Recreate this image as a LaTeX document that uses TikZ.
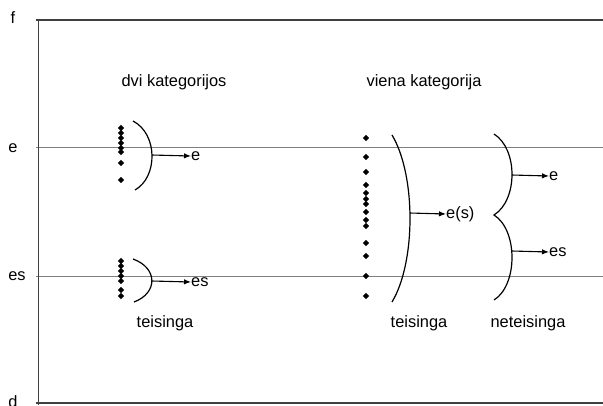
\documentclass[tikz,border=0pt]{standalone}
\usepackage{fontspec}
\setmainfont{Liberation Sans}
\usetikzlibrary{arrows.meta,shapes.geometric}
\begin{document}
\begin{tikzpicture}[x=1bp,y=-1bp,
  lbl/.style={font=\fontsize{16.4bp}{19bp}\selectfont, inner sep=0pt},
  axisline/.style={draw=black!75, line width=1.4bp},
  guide/.style={draw=black!50, line width=0.9bp},
  arc/.style={draw=black, line width=1.2bp},
  arr/.style={draw=black, line width=1.1bp, -{Latex[length=7bp,width=5.5bp]}},
  dot/.style={diamond, fill=black, inner sep=0pt, minimum size=6.5bp}]
\useasboundingbox (0,0) rectangle (603,405);
% axes
\coordinate (tl) at (36,20); \coordinate (tr) at (603,20);
\coordinate (al) at (38.5,20); \coordinate (ab) at (38.5,405);
\coordinate (bl) at (36,403); \coordinate (br) at (603,403);
\coordinate (el) at (36,147); \coordinate (er) at (603,147);
\coordinate (sl) at (36,276); \coordinate (sr) at (603,276);
\draw[guide] (el) -- (er);
\draw[guide] (sl) -- (sr);
\draw[axisline] (tl) -- (tr);
\draw[axisline] (al) -- (ab);
\draw[axisline] (bl) -- (br);
\node[lbl] (yf) at (13,18) {f};
\node[lbl] (ye) at (13,148) {e};
\node[lbl] (yes) at (17,276) {es};
\node[lbl] (yd) at (13,402) {d};
% headings
\node[lbl] (h1) at (174,82) {dvi kategorijos};
\node[lbl] (h2) at (424,82) {viena kategorija};
\node[lbl] (t1) at (165,323) {teisinga};
\node[lbl] (t2) at (419,323) {teisinga};
\node[lbl] (t3) at (528,323) {neteisinga};
% left top group
\foreach \y [count=\i] in {128,133,138,143,148,152,163,180}
  \node[dot] (la\i) at (121,\y) {};
\draw[arc] (133,121) .. controls (158,134) and (158,177) .. (135,190);
\coordinate (lat) at (152,155);
\node[lbl, anchor=west] (le) at (191,156) {e};
\draw[arr] (lat) -- (le.west);
% left bottom group
\foreach \y [count=\i] in {261,266,271,276,281,290,296}
  \node[dot] (lb\i) at (121,\y) {};
\draw[arc] (133,259) .. controls (158,268) and (158,293) .. (134,302);
\coordinate (lbt) at (152,281);
\node[lbl, anchor=west] (les) at (191,282) {es};
\draw[arr] (lbt) -- (les.west);
% middle group
\foreach \y [count=\i] in {138,157,172,185,193,199,204,212,220,226,243,256,276,296}
  \node[dot] (m\i) at (366,\y) {};
\draw[arc] (392,135) .. controls (416,175) and (416,262) .. (392,302);
\coordinate (mt) at (410,213);
\node[lbl, anchor=west] (mes) at (446,214) {e(s)};
\draw[arr] (mt) -- (mes.west);
% right brace
\coordinate (rc) at (494,215);
\draw[arc] (494,134) .. controls (518,149) and (518,200) .. (rc)
           .. controls (518,230) and (518,285) .. (494,300);
\coordinate (rt1) at (512,175);
\coordinate (rt2) at (512,251);
\node[lbl, anchor=west] (re) at (549,176) {e};
\node[lbl, anchor=west] (res) at (549,252) {es};
\draw[arr] (rt1) -- (re.west);
\draw[arr] (rt2) -- (res.west);
\end{tikzpicture}
\end{document}
